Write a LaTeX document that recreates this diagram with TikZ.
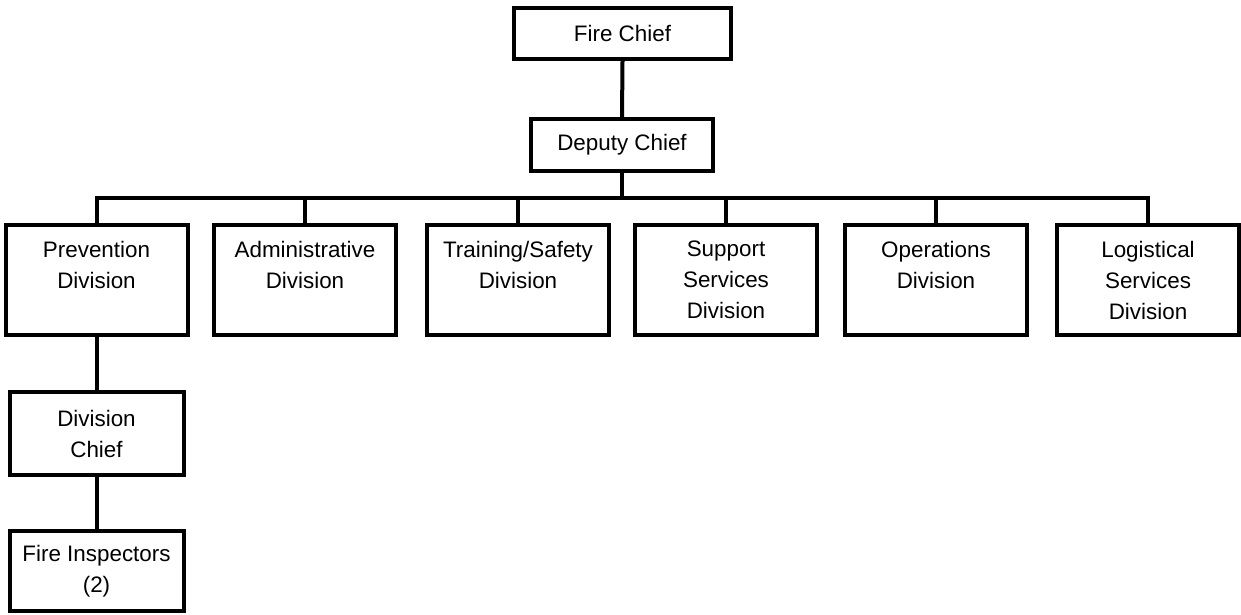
\documentclass[tikz,border=0pt]{standalone}
\usepackage{fontspec}
\setmainfont{Liberation Sans}
\begin{document}
\begin{tikzpicture}[x=1pt,y=-1pt,
  box/.style={draw=black, line width=4pt, align=center, inner sep=0pt,
    font=\fontsize{22.4}{31}\selectfont, text=black},
  divbox/.style={box, minimum width=182pt, minimum height=110pt},
  subbox/.style={box, minimum width=174pt},
  link/.style={draw=black, line width=4pt}]
\useasboundingbox (0,0) rectangle (1241,614);
\fill[white] (0,0) rectangle (1241,614);
\node[box, minimum width=217pt, minimum height=51pt] (fc) at (622.5,33.5) {Fire Chief};
\node[box, minimum width=182pt, minimum height=52pt] (dc) at (622,145) {Deputy Chief};
\node[divbox] (pv) at (96.5,280) {Prevention\\Division\\\mbox{}};
\node[divbox] (ad) at (305,280) {Administrative\\Division\\\mbox{}};
\node[divbox] (tr) at (518,280) {Training/Safety\\Division\\\mbox{}};
\node[divbox] (su) at (726,280) {Support\\Services\\Division};
\node[divbox] (op) at (936,280) {Operations\\Division\\\mbox{}};
\node[divbox] (lo) at (1148,280) {Logistical\\Services\\Division};
\node[subbox, minimum height=83pt] (dv) at (96.5,433.5) {Division\\Chief};
\node[subbox, minimum height=80pt] (fi) at (96.5,571) {Fire Inspectors\\(2)};
\coordinate (bus) at (622,198);
\draw[link] (fc.south) -- (dc.north);
\draw[link] (dc.south) -- (bus);
\foreach \n in {pv,ad,tr,su,op,lo} {\draw[link] (\n.north) |- (bus);}
\draw[link] (pv.south) -- (dv.north);
\draw[link] (dv.south) -- (fi.north);
\end{tikzpicture}
\end{document}
